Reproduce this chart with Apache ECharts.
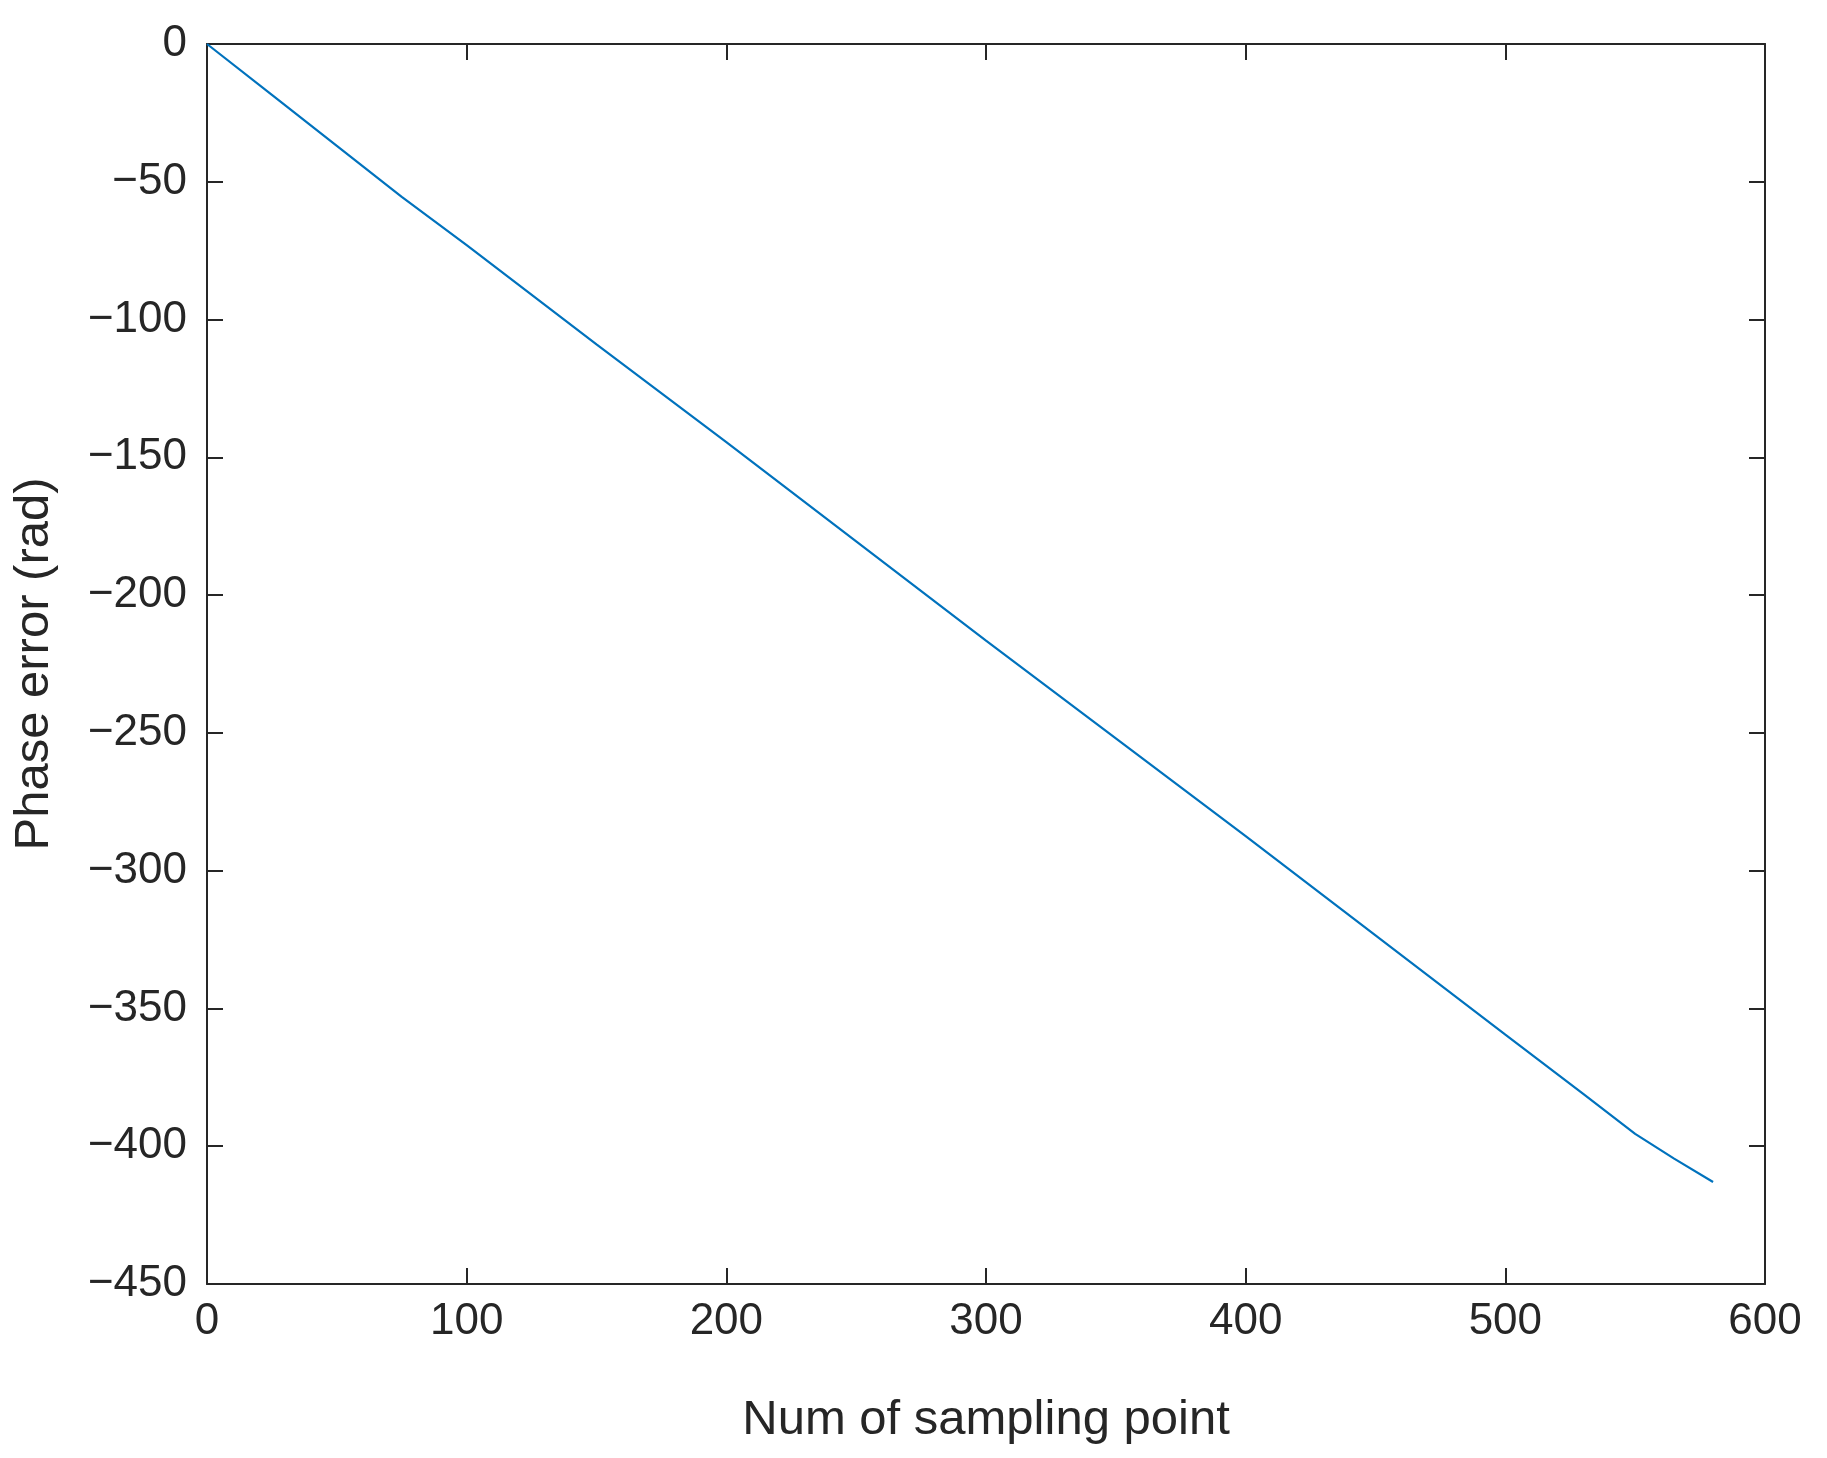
<!DOCTYPE html>
<html><head><meta charset="utf-8">
<script src="https://cdn.jsdelivr.net/npm/echarts@6/dist/echarts.min.js"></script>
<style>html,body{margin:0;padding:0;background:#fff}#c{width:1827px;height:1458px}</style>
</head><body><div id="c"></div>
<script>
const xs = [0, 25, 50, 75, 100, 150, 200, 250, 300, 350, 400, 450, 500, 530, 550, 565, 580];
const ys = [0, -18.5, -37, -55.5, -73, -109, -144.5, -180.5, -216.5, -252, -287.5, -323.5, -359.5, -381, -395.5, -404.5, -413];
const xTitle = 'Num of sampling point';
const yTitle = 'Phase error (rad)';
const font = 'Liberation Sans, Arial, sans-serif';
const chart = echarts.init(document.getElementById('c'));
const ax = {onZero:false,lineStyle:{color:'#262626',width:2}};
const tk = {inside:true,length:16,lineStyle:{color:'#262626',width:2}};
chart.setOption({
  animation:false,
  grid:{left:207,right:62,top:44,bottom:174,containLabel:false,show:false},
  xAxis:[{type:'value',min:0,max:600,interval:100,position:'bottom',
    name:xTitle,nameLocation:'middle',nameGap:112,nameTextStyle:{fontSize:49,color:'#262626',fontFamily:font},
    axisLine:ax,axisTick:tk,
    axisLabel:{fontSize:44,color:'#262626',fontFamily:font,margin:16},splitLine:{show:false}},
    {type:'value',min:0,max:600,interval:100,position:'top',axisLine:ax,
    axisTick:tk,axisLabel:{show:false},splitLine:{show:false}}],
  yAxis:[{type:'value',min:-450,max:0,interval:50,position:'left',
    name:yTitle,nameLocation:'middle',nameGap:148,nameTextStyle:{fontSize:49,color:'#262626',fontFamily:font},
    axisLine:ax,axisTick:tk,
    axisLabel:{fontSize:44,color:'#262626',fontFamily:font,margin:20,formatter:v=>String(v).replace('-','\u2212')},splitLine:{show:false}},
    {type:'value',min:-450,max:0,interval:50,position:'right',axisLine:ax,
    axisTick:tk,axisLabel:{show:false},splitLine:{show:false}}],
  series:[{type:'line',data:xs.map((x,i)=>[x,ys[i]]),showSymbol:false,lineStyle:{color:'#0072BD',width:2.2}}]
});
</script></body></html>
